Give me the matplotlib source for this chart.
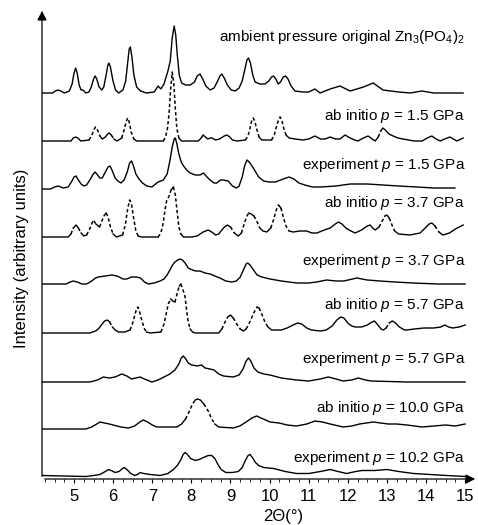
import numpy as np
import matplotlib
matplotlib.use("Agg")
import matplotlib.pyplot as plt

plt.rcParams['font.family'] = ['Liberation Sans', 'DejaVu Sans']
plt.rcParams['mathtext.fontset'] = 'custom'
plt.rcParams['mathtext.rm'] = 'Liberation Sans'
plt.rcParams['mathtext.it'] = 'Liberation Sans:italic'

# ---- data: 2theta and height above each trace's own baseline ----
amb_x = [4.18, 4.45, 4.52, 4.59, 4.66, 4.75, 4.88, 4.95, 5.00, 5.04, 5.08, 5.13, 5.18, 5.23, 5.30, 5.38,
         5.44, 5.50, 5.54, 5.58, 5.64, 5.71, 5.76, 5.82, 5.86, 5.89, 5.93, 5.99, 6.06, 6.14, 6.25, 6.32,
         6.37, 6.41, 6.44, 6.48, 6.53, 6.60, 6.70, 6.85, 7.05, 7.15, 7.22, 7.30, 7.40, 7.46, 7.51, 7.56,
         7.60, 7.64, 7.69, 7.75, 7.85, 7.97, 8.08, 8.15, 8.22, 8.29, 8.37, 8.48, 8.58, 8.66, 8.73, 8.78,
         8.84, 8.92, 9.02, 9.12, 9.22, 9.30, 9.37, 9.42, 9.46, 9.51, 9.57, 9.63, 9.75, 9.88, 9.98, 10.05,
         10.10, 10.16, 10.22, 10.28, 10.35, 10.41, 10.47, 10.55, 10.65, 10.85, 11.0, 11.16, 11.29, 11.55,
         11.8, 12.06, 12.4, 12.65, 12.9, 13.3, 13.6, 13.89, 14.2, 14.95]
amb_y = [0, 0, 2, 3, 2, 0, 2, 9, 20, 25, 20, 8, 3, 3, 0, 1,
         6, 14, 17, 14, 6, 3, 6, 18, 27, 30, 26, 13, 3, 0, 3, 12,
         30, 44, 46, 36, 18, 6, 2, 0, 1, 7, 4, 9, 22, 32, 55, 67,
         58, 38, 18, 10, 8, 8, 11, 17, 19, 14, 7, 3, 5, 11, 17, 19,
         15, 8, 3, 2, 5, 12, 24, 33, 35, 30, 18, 11, 9, 9, 12, 16,
         17, 14, 9, 11, 16, 17, 14, 7, 2, 1, 1, 4, 0, 4,
         7, 2, 6, 10, 3, 1, 0, 2, 0, 0]

ab15_x = [4.18, 4.92, 4.98, 5.04, 5.10, 5.17, 5.38, 5.45, 5.50, 5.55, 5.60, 5.66, 5.72, 5.80, 5.86, 5.90,
          5.95, 6.02, 6.10, 6.22, 6.28, 6.33, 6.37, 6.41, 6.46, 6.53, 6.60, 7.28, 7.34, 7.39, 7.43, 7.47,
          7.51, 7.55, 7.59, 7.63, 7.68, 7.75, 8.18, 8.25, 8.30, 8.36, 8.42, 8.48, 8.53, 8.62, 8.72, 8.84,
          8.91, 8.98, 9.05, 9.17, 9.38, 9.45, 9.50, 9.54, 9.58, 9.62, 9.67, 9.73, 9.80, 10.05, 10.12, 10.18,
          10.23, 10.27, 10.31, 10.36, 10.42, 10.50, 10.65, 10.85, 11.0, 11.16, 11.30, 11.42, 11.55, 11.68,
          11.80, 11.93, 12.06, 12.18, 12.26, 12.40, 12.52, 12.62, 12.70, 12.78, 12.84, 12.90, 12.96, 13.05,
          13.16, 13.28, 13.41, 13.7, 13.9, 14.03, 14.15, 14.26, 14.36, 14.48, 14.61, 14.70, 14.79, 14.95]
ab15_y = [0, 0, 3, 4, 3, 0, 1, 5, 11, 14, 11, 5, 2, 4, 7, 8,
          6, 2, 0, 3, 11, 19, 23, 19, 9, 2, 0, 0, 4, 13, 28, 52,
          69, 58, 32, 12, 3, 0, 0, 3, 6, 4, 2, 3, 3, 1, 2, 5,
          6, 4, 1, 0, 1, 5, 13, 20, 23, 20, 12, 4, 1, 1, 6, 15,
          21, 24, 21, 13, 6, 3, 2, 1, 2, 5, 2, 2, 4, 2,
          2, 6, 3, 1, 0, 3, 5, 2, 0, 4, 10, 13, 11, 7,
          5, 3, 2, 0, 0, 3, 5, 2, 0, 2, 4, 2, 0, 3]

ex15_x = [4.18, 4.40, 4.50, 4.60, 4.72, 4.85, 4.93, 5.00, 5.05, 5.11, 5.18, 5.25, 5.32, 5.42, 5.49, 5.54,
          5.60, 5.66, 5.72, 5.80, 5.87, 5.92, 5.98, 6.05, 6.12, 6.20, 6.28, 6.36, 6.42, 6.47, 6.52, 6.58,
          6.66, 6.75, 6.86, 6.99, 7.15, 7.28, 7.38, 7.45, 7.51, 7.56, 7.59, 7.63, 7.68, 7.74, 7.80, 7.88,
          7.97, 8.10, 8.22, 8.31, 8.40, 8.48, 8.58, 8.65, 8.74, 8.82, 8.94, 9.05, 9.15, 9.22, 9.30, 9.36,
          9.42, 9.48, 9.55, 9.63, 9.72, 9.85, 9.98, 10.15, 10.35, 10.50, 10.62, 10.75, 10.90, 11.1, 11.3,
          11.7, 12.06, 12.5, 12.9, 13.3, 13.76, 14.2, 14.74]
ex15_y = [0, 0, 2, 3, 1, 2, 7, 12, 13, 9, 5, 3, 4, 10, 15, 17,
          14, 11, 11, 17, 22, 23, 18, 11, 8, 6, 9, 17, 26, 28, 23, 15,
          10, 6, 3, 2, 7, 9, 15, 28, 42, 50, 51, 45, 35, 27, 23, 19,
          16, 14, 14, 16, 12, 9, 6, 6, 9, 9, 8, 3, 1, 3, 12, 23,
          29, 27, 23, 18, 12, 8, 7, 7, 10, 12, 10, 6, 4, 2, 2,
          3, 5, 5, 4, 3, 2, 1, 1]

ab37_x = [4.18, 4.85, 4.92, 4.98, 5.05, 5.11, 5.18, 5.25, 5.32, 5.40, 5.49, 5.56, 5.65, 5.72, 5.78, 5.82,
          5.87, 5.93, 6.00, 6.08, 6.24, 6.31, 6.37, 6.42, 6.47, 6.52, 6.58, 6.64, 6.72, 7.15, 7.22, 7.28,
          7.33, 7.37, 7.42, 7.48, 7.54, 7.59, 7.64, 7.68, 7.73, 7.80, 8.0, 8.15, 8.30, 8.43, 8.52, 8.62,
          8.70, 8.82, 8.92, 9.00, 9.10, 9.20, 9.28, 9.35, 9.42, 9.47, 9.53, 9.60, 9.67, 9.75, 9.83, 9.93,
          10.03, 10.10, 10.17, 10.23, 10.29, 10.35, 10.42, 10.50, 10.60, 10.78, 10.95, 11.08, 11.21, 11.40,
          11.55, 11.68, 11.76, 11.85, 11.95, 12.08, 12.19, 12.35, 12.50, 12.57, 12.64, 12.70, 12.80, 12.88,
          12.95, 13.00, 13.06, 13.13, 13.20, 13.30, 13.59, 13.85, 13.98, 14.08, 14.15, 14.23, 14.33, 14.43,
          14.60, 14.75, 14.95]
ab37_y = [0, 0, 3, 9, 12, 9, 4, 1, 2, 8, 17, 13, 10, 17, 22, 24,
          20, 10, 3, 0, 2, 12, 28, 37, 33, 20, 6, 1, 0, 0, 4, 14,
          28, 37, 40, 47, 50, 42, 24, 10, 3, 0, 0, 1, 5, 7, 5, 2,
          3, 9, 12, 10, 4, 1, 4, 13, 21, 24, 23, 21, 16, 9, 6, 5,
          9, 17, 27, 32, 29, 20, 11, 6, 5, 6, 6, 4, 4, 7,
          9, 13, 15, 13, 9, 6, 4, 7, 11, 12, 9, 7, 10, 16,
          21, 22, 19, 12, 6, 3, 2, 4, 9, 13, 14, 11, 5, 2,
          4, 8, 12]

ex37_x = [4.18, 4.80, 4.90, 4.98, 5.08, 5.20, 5.32, 5.45, 5.55, 5.62, 5.80, 5.96, 6.10, 6.25, 6.35, 6.47,
          6.60, 6.70, 6.80, 6.90, 7.05, 7.20, 7.30, 7.38, 7.45, 7.52, 7.58, 7.65, 7.71, 7.77, 7.84, 7.92,
          7.97, 8.10, 8.22, 8.35, 8.48, 8.60, 8.73, 8.88, 9.03, 9.15, 9.25, 9.33, 9.40, 9.44, 9.50, 9.59,
          9.68, 9.80, 10.01, 10.3, 10.69, 11.0, 11.2, 11.46, 11.7, 11.9, 12.23, 12.5, 12.82, 13.2, 13.67,
          14.3, 15.0]
ex37_y = [0, 0, 2, 3, 2, 0, 0, 3, 6, 7, 8, 9, 8, 5, 5, 7,
          7, 6, 2, 0, 1, 3, 5, 9, 14, 19, 22, 24, 25, 24, 21, 16,
          15, 13, 13, 11, 10, 8, 6, 3, 2, 3, 7, 14, 20, 21, 19, 14,
          9, 7, 5, 3, 1, 1, 2, 4, 3, 3, 6, 4, 3, 2, 1,
          0, 0]

ab57_x = [4.18, 5.40, 5.55, 5.62, 5.70, 5.78, 5.85, 5.91, 5.98, 6.05, 6.14, 6.30, 6.43, 6.49, 6.54, 6.59,
          6.63, 6.67, 6.73, 6.79, 6.85, 6.95, 7.22, 7.30, 7.36, 7.41, 7.47, 7.52, 7.58, 7.64, 7.69, 7.73,
          7.78, 7.84, 7.88, 7.92, 7.97, 8.03, 8.10, 8.70, 8.78, 8.86, 8.93, 9.00, 9.07, 9.16, 9.25, 9.33,
          9.40, 9.47, 9.55, 9.62, 9.68, 9.73, 9.80, 9.88, 9.96, 10.05, 10.16, 10.30, 10.45, 10.60, 10.72,
          10.82, 10.95, 11.07, 11.30, 11.45, 11.60, 11.72, 11.82, 11.90, 12.00, 12.10, 12.19, 12.35, 12.50,
          12.62, 12.68, 12.75, 12.85, 12.91, 12.98, 13.06, 13.14, 13.22, 13.32, 13.45, 13.51, 13.70, 13.95,
          14.2, 14.38, 14.48, 14.58, 14.68, 14.85, 15.0]
ab57_y = [0, 0, 2, 4, 8, 12, 13, 11, 6, 3, 1, 1, 3, 9, 16, 23,
          26, 22, 13, 5, 1, 0, 1, 9, 20, 29, 34, 32, 31, 40, 47, 49,
          44, 36, 22, 11, 4, 1, 0, 0, 4, 11, 16, 18, 15, 9, 4, 2,
          4, 9, 16, 22, 26, 25, 19, 11, 6, 3, 3, 3, 5, 8, 10,
          9, 5, 3, 2, 3, 7, 13, 16, 15, 10, 7, 6, 6, 8,
          11, 12, 9, 4, 3, 5, 10, 12, 10, 6, 3, 3, 4, 5,
          5, 6, 8, 6, 5, 6, 8]

ex57_x = [4.18, 5.40, 5.60, 5.75, 5.90, 6.05, 6.22, 6.35, 6.47, 6.58, 6.69, 6.80, 6.99, 7.15, 7.30, 7.45,
          7.58, 7.68, 7.74, 7.79, 7.84, 7.92, 8.01, 8.15, 8.26, 8.35, 8.48, 8.58, 8.70, 8.82, 9.07, 9.22,
          9.32, 9.40, 9.46, 9.52, 9.60, 9.70, 9.85, 10.01, 10.3, 10.69, 11.0, 11.3, 11.5, 11.7, 11.88,
          12.1, 12.27, 12.45, 12.6, 13.5, 15.0]
ex57_y = [0, 0, 2, 5, 4, 5, 8, 6, 3, 4, 5, 3, 0, 2, 5, 8,
          12, 18, 24, 26, 24, 19, 17, 16, 17, 14, 13, 12, 8, 6, 5, 7,
          13, 21, 24, 21, 14, 10, 8, 7, 4, 2, 1, 3, 5, 3, 1,
          2, 4, 2, 1, 0, 0]

ab100_x = [4.18, 5.30, 5.45, 5.58, 5.66, 5.78, 5.90, 6.00, 6.20, 6.39, 6.55, 6.68, 6.77, 6.88, 7.00, 7.11,
           7.40, 7.63, 7.75, 7.85, 7.95, 8.03, 8.10, 8.16, 8.23, 8.32, 8.43, 8.52, 8.60, 8.70, 9.07, 9.24,
           9.40, 9.55, 9.67, 9.78, 9.90, 10.01, 10.24, 10.45, 10.69, 10.95, 11.16, 11.35, 11.55, 11.88,
           12.1, 12.3, 12.65, 13.03, 13.25, 13.51, 13.9, 14.2, 14.5, 14.75, 15.0]
ab100_y = [0, 0, 2, 5, 7, 6, 5, 4, 2, 1, 3, 7, 9, 7, 4, 2,
           2, 2, 5, 10, 18, 25, 29, 30, 29, 25, 18, 10, 5, 2, 1, 3,
           7, 11, 13, 11, 9, 7, 6, 4, 3, 5, 8, 7, 5, 2,
           3, 5, 7, 5, 5, 4, 2, 3, 4, 3, 5]

ex102_x = [4.18, 5.30, 5.50, 5.66, 5.80, 5.88, 5.95, 6.05, 6.15, 6.24, 6.28, 6.35, 6.45, 6.55, 6.62, 6.69,
           6.78, 6.95, 7.2, 7.40, 7.54, 7.64, 7.72, 7.79, 7.84, 7.90, 7.98, 8.10, 8.20, 8.31, 8.43, 8.52,
           8.60, 8.68, 8.76, 8.88, 9.05, 9.20, 9.30, 9.38, 9.45, 9.50, 9.56, 9.64, 9.72, 9.85, 10.1, 10.4,
           10.69, 11.0, 11.3, 11.55, 11.75, 11.97, 12.2, 12.36, 12.7, 13.0, 13.3, 13.68, 14.1, 14.53, 15.0]
ex102_y = [1, 0, 1, 2, 5, 7, 6, 4, 5, 8, 9, 7, 3, 1, 2, 4,
           3, 2, 1, 3, 7, 11, 16, 22, 24, 22, 18, 16, 17, 19, 21, 21,
           18, 12, 7, 4, 4, 5, 9, 16, 21, 22, 19, 14, 11, 9, 8, 5,
           3, 3, 5, 7, 5, 3, 5, 6, 6, 7, 5, 3, 2, 1, 0]

labels = ['ambient pressure original Zn$_3$(PO$_4$)$_2$',
          'ab initio $p$ = 1.5 GPa', 'experiment $p$ = 1.5 GPa',
          'ab initio $p$ = 3.7 GPa', 'experiment $p$ = 3.7 GPa',
          'ab initio $p$ = 5.7 GPa', 'experiment $p$ = 5.7 GPa',
          'ab initio $p$ = 10.0 GPa', 'experiment $p$ = 10.2 GPa']
traces = [(amb_x, amb_y), (ab15_x, ab15_y), (ex15_x, ex15_y), (ab37_x, ab37_y), (ex37_x, ex37_y),
          (ab57_x, ab57_y), (ex57_x, ex57_y), (ab100_x, ab100_y), (ex102_x, ex102_y)]
is_abinitio = [False, True, False, True, False, True, False, True, False]

# layout: vertical offset of each trace and height of its caption
offsets = [386, 338, 290, 242, 195, 146, 97, 50, 2.5]
label_y = [442, 363, 314, 276, 218, 174, 120, 71, 21]

W, H = 478, 525
fig = plt.figure(figsize=(W / 100, H / 100), dpi=100)
ax = fig.add_axes([42 / W, 46 / H, 436 / W, 471 / H])
ax.set_xlim(4.18, 15.33)
ax.set_ylim(0, 471)

px_per_x = 436 / (15.33 - 4.18)

for (xs, ys), off, ab in zip(traces, offsets, is_abinitio):
    xs = np.array(xs)
    ys = np.array(ys, dtype=float) + off
    if not ab:
        ax.plot(xs, ys, color='black', lw=1.0, solid_joinstyle='round')
        continue
    # simulated patterns: broken on the steep flanks, solid on the flat parts
    slope = np.abs(np.diff(ys) / (np.diff(xs) * px_per_x))
    steep = slope > 1.3
    start = 0
    for i in range(1, len(steep) + 1):
        if i == len(steep) or steep[i] != steep[start]:
            seg_x = xs[start:i + 1]
            seg_y = ys[start:i + 1]
            if steep[start]:
                ax.plot(seg_x, seg_y, color='black', lw=1.1, linestyle=(0, (2.2, 1.6)))
            else:
                ax.plot(seg_x, seg_y, color='black', lw=1.0, solid_joinstyle='round')
            start = i

for lab, ly in zip(labels, label_y):
    ax.text(15.0, ly, lab, ha='right', va='center', fontsize=11)

# axes drawn as arrows
for s in ax.spines.values():
    s.set_visible(False)
ax.annotate('', xy=(1, 0), xytext=(0, 0), xycoords='axes fraction',
            arrowprops=dict(arrowstyle='-|>', color='black', lw=0.9, mutation_scale=14))
ax.annotate('', xy=(0, 1), xytext=(0, 0), xycoords='axes fraction',
            arrowprops=dict(arrowstyle='-|>', color='black', lw=0.9, mutation_scale=14))

ax.set_xticks(np.arange(5, 16, 1))
ax.set_xticks(np.arange(4.25, 15.01, 0.25), minor=True)
ax.tick_params(axis='x', which='major', direction='out', length=3, width=0.8, labelsize=12, pad=4)
ax.tick_params(axis='x', which='minor', direction='out', length=2, width=0.6)
ax.set_yticks([])

fig.text(283 / W, 1 - 516 / H, '2\u0398(\u00b0)', ha='center', va='center', fontsize=12)
fig.text(22 / W, 1 - 258 / H, 'Intensity (arbitrary units)', ha='center', va='center',
         rotation=90, fontsize=12)

fig.savefig('out.png', dpi=100)
